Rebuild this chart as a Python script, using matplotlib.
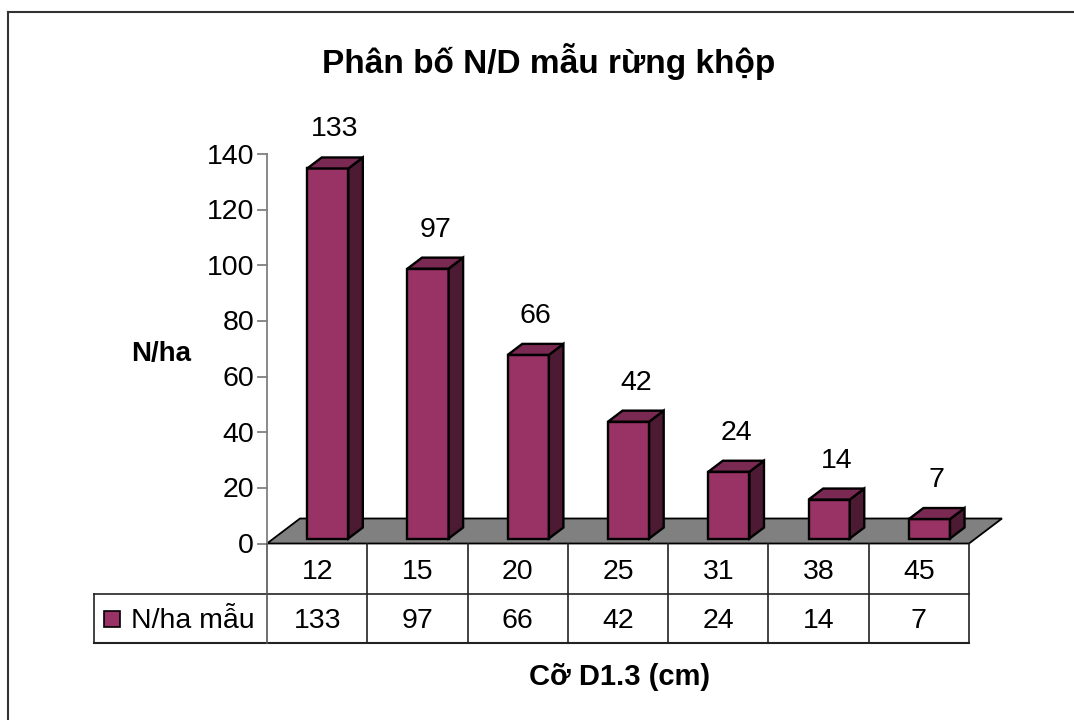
import matplotlib
matplotlib.use('Agg')
import matplotlib.pyplot as plt
from matplotlib.patches import Polygon
from matplotlib.lines import Line2D

plt.rcParams['font.family'] = ['Liberation Sans', 'DejaVu Sans']

# du lieu
categories = ['12', '15', '20', '25', '31', '38', '45']
values = [133, 97, 66, 42, 24, 14, 7]
series_name = 'N/ha mẫu'
title = 'Phân bố N/D mẫu rừng khộp'
y_label = 'N/ha'
x_label = 'Cỡ D1.3 (cm)'
y_ticks = [0, 20, 40, 60, 80, 100, 120, 140]

W, H = 1074, 720
fig = plt.figure(figsize=(W / 100, H / 100), dpi=100)
fs = 20.5

# khung ve chinh (pixel -> phan so figure)
x_left, x_right = 267, 969
y_zero, y_top = 543.5, 154
ax = fig.add_axes([x_left / W, (H - y_zero) / H, (x_right - x_left) / W, (y_zero - y_top) / H])
n = len(categories)
ax.set_xlim(0, n)
ax.set_ylim(0, 140)
ax.axis('off')

px_x = (x_right - x_left) / n      # pixel / category
px_y = (y_zero - y_top) / 140      # pixel / value
floor_dx = 33 / px_x
floor_dy = 25 / px_y
shift = 2.5 / px_y                 # bu lai phan descent cua chu so

# nen xam
floor = Polygon([(0, 0), (n, 0), (n + floor_dx, floor_dy), (floor_dx, floor_dy)],
                closed=True, facecolor='#808080', edgecolor='black', lw=1.3, clip_on=False, zorder=1)
ax.add_patch(floor)

# truc y
ax.plot([0, 0], [0, 140], color='#808080', lw=1.3, clip_on=False, zorder=2)
for t in y_ticks:
    ax.plot([-9 / px_x, 0], [t, t], color='#808080', lw=1.3, clip_on=False, zorder=2)
    ax.text(-13 / px_x, t - shift, str(t), ha='right', va='center', fontsize=fs, clip_on=False)

# cot 3D
bw = 0.41
d_front, d_back = 0.2, 0.64
c_front, c_side, c_top = '#993366', '#4d1a33', '#7a2952'
for i, v in enumerate(values):
    c = i + 0.5
    x0 = c - bw / 2 + d_front * floor_dx + 0.04
    y0 = d_front * floor_dy
    ddx = (d_back - d_front) * floor_dx
    ddy = (d_back - d_front) * floor_dy
    x1, y1 = x0 + bw, y0 + v
    front = Polygon([(x0, y0), (x1, y0), (x1, y1), (x0, y1)], closed=True,
                    facecolor=c_front, edgecolor='black', lw=1.7, clip_on=False, zorder=3)
    side = Polygon([(x1, y0), (x1 + ddx, y0 + ddy), (x1 + ddx, y1 + ddy), (x1, y1)], closed=True,
                   facecolor=c_side, edgecolor='black', lw=1.7, clip_on=False, zorder=3)
    top = Polygon([(x0, y1), (x1, y1), (x1 + ddx, y1 + ddy), (x0 + ddx, y1 + ddy)], closed=True,
                  facecolor=c_top, edgecolor='black', lw=1.7, clip_on=False, zorder=3)
    for p in (front, side, top):
        ax.add_patch(p)
    ax.text(x0 + bw / 2 + ddx / 2, y1 + ddy + 28 / px_y, str(v), ha='center', va='center',
            fontsize=fs, clip_on=False, zorder=4)

# bang du lieu
tb_left = 94
tb_top, tb_bottom = 544, 643
leg_x = (tb_left - x_left) / px_x
tax = fig.add_axes([tb_left / W, (H - tb_bottom) / H, (x_right - tb_left) / W, (tb_bottom - tb_top) / H])
tax.set_xlim(leg_x, n)
tax.set_ylim(0, 2)
tax.axis('off')
lc = '#222222'
tax.plot([leg_x, n], [1, 1], color=lc, lw=1.2, clip_on=False)
tax.plot([leg_x, n], [0, 0], color=lc, lw=1.5, clip_on=False)
tax.plot([leg_x, leg_x], [0, 1], color=lc, lw=1.2, clip_on=False)
for k in range(n + 1):
    tax.plot([k, k], [0, 2], color='#555555' if k == 0 else lc, lw=1.2, clip_on=False)
for i, (cat, v) in enumerate(zip(categories, values)):
    tax.text(i + 0.5, 1.44, cat, ha='center', va='center', fontsize=fs)
    tax.text(i + 0.5, 0.44, str(v), ha='center', va='center', fontsize=fs)
tax.plot([(112 - x_left) / px_x], [0.48], marker='s', markersize=12, markerfacecolor=c_front,
         markeredgecolor='black', markeredgewidth=1.2, clip_on=False)
tax.text((131 - x_left) / px_x, 0.44, series_name, ha='left', va='center', fontsize=fs)

# tieu de
fig.text(549 / W, 1 - 61 / H, title, ha='center', va='center', fontsize=24, fontweight='bold')
fig.text(161 / W, 1 - 354 / H, y_label, ha='center', va='center', fontsize=20, fontweight='bold')
fig.text(620 / W, 1 - 677 / H, x_label, ha='center', va='center', fontsize=21, fontweight='bold')

# khung ngoai
fig.add_artist(Line2D([8 / W, 8 / W], [0, 1 - 12 / H], color='#333333', lw=1.5))
fig.add_artist(Line2D([8 / W, 1], [1 - 12 / H, 1 - 12 / H], color='#333333', lw=1.5))

fig.savefig('out.png', dpi=100)
